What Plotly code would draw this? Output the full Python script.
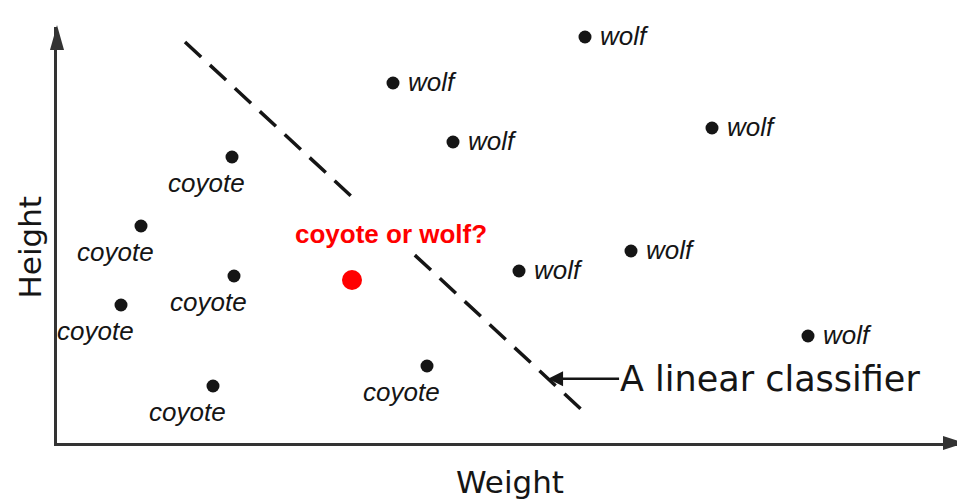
import plotly.graph_objects as go

# ---- data (Weight / Height, arbitrary units) ----
wolf_weight = [52.8, 33.6, 39.6, 65.5, 57.4, 46.2, 75.1]
wolf_height = [40.6, 36.0, 30.1, 31.5, 19.2, 17.2, 10.7]
wolf_labels = ["wolf"] * 7

coyote_weight = [17.5, 8.4, 17.7, 6.4, 15.6, 37.0]
coyote_height = [28.6, 21.7, 16.7, 13.8, 5.7, 7.7]
coyote_labels = ["coyote"] * 6

unknown_weight = [29.5]
unknown_height = [16.3]
unknown_label = "coyote or wolf?"

classifier_start = (12.8, 40.1)
classifier_end = (52.7, 3.1)
classifier_gap = (0.418, 0.576)      # fraction of the line hidden behind the question
classifier_label = "A linear classifier"
classifier_label_at = 0.91           # fraction along the line where the arrow points

x_title = "Weight"
y_title = "Height"
x_max, y_max = 90.6, 41.6

# ---- build ----
def along(t):
    return (classifier_start[0] + t * (classifier_end[0] - classifier_start[0]),
            classifier_start[1] + t * (classifier_end[1] - classifier_start[1]))

g0, g1 = along(classifier_gap[0]), along(classifier_gap[1])
line_x = [classifier_start[0], g0[0], None, g1[0], classifier_end[0]]
line_y = [classifier_start[1], g0[1], None, g1[1], classifier_end[1]]

INK = "#151515"
AXIS = "#333333"
LABEL_FONT = dict(family="Liberation Sans, Arial, sans-serif", size=26, color=INK)
TITLE_FONT = dict(family="DejaVu Sans, sans-serif", size=31, color=INK)

fig = go.Figure()
fig.add_trace(go.Scatter(x=line_x, y=line_y, mode="lines",
                         line=dict(color=INK, width=3.5, dash="22px,12px"),
                         hoverinfo="skip", showlegend=False))
fig.add_trace(go.Scatter(x=wolf_weight, y=wolf_height, mode="markers",
                         marker=dict(size=13, color=INK), name="wolf", showlegend=False))
fig.add_trace(go.Scatter(x=coyote_weight, y=coyote_height, mode="markers",
                         marker=dict(size=13, color=INK), name="coyote", showlegend=False))
fig.add_trace(go.Scatter(x=unknown_weight, y=unknown_height, mode="markers",
                         marker=dict(size=20, color="#ff0000"), name="unknown", showlegend=False))

annotations = []
for xw, yw, t in zip(wolf_weight, wolf_height, wolf_labels):
    annotations.append(dict(x=xw, y=yw, text=f"<i>{t}</i>", showarrow=False,
                            xanchor="left", yanchor="middle", xshift=13, yshift=1,
                            font=LABEL_FONT))
for xc, yc, t in zip(coyote_weight, coyote_height, coyote_labels):
    annotations.append(dict(x=xc, y=yc, text=f"<i>{t}</i>", showarrow=False,
                            xanchor="center", yanchor="middle", xshift=-26, yshift=-26,
                            font=LABEL_FONT))
annotations.append(dict(x=unknown_weight[0], y=unknown_height[0], text=f"<b>{unknown_label}</b>",
                        showarrow=False, xanchor="center", yanchor="middle",
                        xshift=39, yshift=46,
                        font=dict(family="Liberation Sans, Arial, sans-serif", size=26, color="#ff0000")))
tip = along(classifier_label_at)
annotations.append(dict(x=tip[0], y=tip[1], text=classifier_label, showarrow=True,
                        ax=71, ay=0, xanchor="left", yanchor="middle",
                        arrowhead=2, arrowsize=1.2, arrowwidth=2.5, arrowcolor=INK,
                        standoff=0, startstandoff=0, borderpad=0,
                        font=dict(family="DejaVu Sans, sans-serif", size=35, color=INK)))
# y-axis title (placed slightly below the axis middle, as in the original)
annotations.append(dict(xref="paper", yref="paper", x=0, y=0.47, xshift=-27,
                        text=y_title, textangle=-90, showarrow=False,
                        xanchor="center", yanchor="middle", font=TITLE_FONT))

# arrowheads at the ends of both axes (paper refs so they are not clipped)
shapes = [
    dict(type="path", xref="paper", yref="paper", xsizemode="pixel", ysizemode="pixel",
         xanchor=0, yanchor=1, path="M0,2 L-7,-23 L7,-23 Z",
         fillcolor=AXIS, line=dict(width=0), layer="above"),
    dict(type="path", xref="paper", yref="paper", xsizemode="pixel", ysizemode="pixel",
         xanchor=1, yanchor=0, path="M2,0 L-20,7 L-20,-7 Z",
         fillcolor=AXIS, line=dict(width=0), layer="above"),
]

axis_common = dict(showgrid=False, zeroline=False, showticklabels=False, ticks="",
                   showline=True, linecolor=AXIS, linewidth=2.5, fixedrange=True)
fig.update_layout(
    width=957, height=494,
    margin=dict(l=49, r=2, t=19, b=59),
    paper_bgcolor="white", plot_bgcolor="white",
    xaxis=dict(range=[0, x_max], title=dict(text=x_title, font=TITLE_FONT, standoff=27), **axis_common),
    yaxis=dict(range=[0, y_max], **axis_common),
    annotations=annotations, shapes=shapes, showlegend=False,
)

fig.write_html("out.html")
